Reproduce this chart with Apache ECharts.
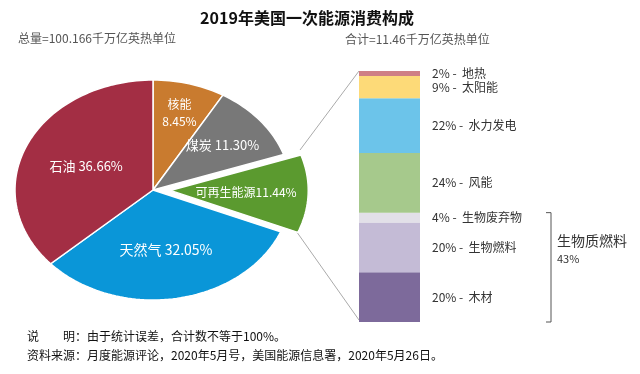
<!DOCTYPE html>
<html><head><meta charset="utf-8">
<script src="https://cdn.jsdelivr.net/npm/echarts@6/dist/echarts.min.js"></script>
<style>html,body{margin:0;padding:0;background:#fff}#c{width:640px;height:374px}</style>
</head><body><div id="c"></div>
<script>
// ---- data ----
const pieNames = ['核能', '煤炭', '可再生能源', '天然气', '石油'];
const pieValues = [8.45, 11.30, 11.44, 32.05, 36.66];
const barNames = ['地热', '太阳能', '水力发电', '风能', '生物废弃物', '生物燃料', '木材'];
const barValues = [2, 9, 22, 24, 4, 20, 20];
const bioGroupName = '生物质燃料';
const bioGroupValue = '43%';
const titleText = '2019年美国一次能源消费构成';
const totalText = '总量=100.166千万亿英热单位';
const subTotalText = '合计=11.46千万亿英热单位';
const note1 = '说　　明：由于统计误差，合计数不等于100%。';
const note2 = '资料来源：月度能源评论，2020年5月号，美国能源信息署，2020年5月26日。';

// ---- styles ----
const pieColors = ['#C97B2F', '#787878', '#5B9A2F', '#0A96D8', '#A32E44'];
const pieLabelR = [0.73, 0.65, 0.55, 0.55, 0.53];
const pieLabelSize = [12, 13, 12, 14, 13];
const pieExplode = [0, 0, 0.125, 0, 0];
const barColors = ['#CF7F85', '#FDDA78', '#6CC4EA', '#A6C98C', '#E2E0E8', '#C4BBD6', '#7D6A9B'];
const CJK = '"Noto Sans CJK SC", "Noto Sans", sans-serif';

const pieTotal = pieValues.reduce((a, b) => a + b, 0);
const pieData = [];
let acc = 0;
pieValues.forEach((v, i) => {
  pieData.push({ value: [acc, acc + v, i], name: pieNames[i] });
  acc += v;
});

function pieLabel(i) {
  const v = pieValues[i].toFixed(2) + '%';
  if (i === 0) return pieNames[i] + '\n' + v;
  if (i === 2) return pieNames[i] + v;
  return pieNames[i] + ' ' + v;
}

const chart = echarts.init(document.getElementById('c'));

const barSeries = [];
for (let i = barNames.length - 1; i >= 0; i--) {
  barSeries.push({
    type: 'bar', xAxisIndex: 1, yAxisIndex: 1, stack: 'r', barWidth: '100%',
    name: barNames[i], data: [barValues[i]],
    itemStyle: { color: barColors[i] },
    label: {
      show: true, position: 'right', distance: 12,
      formatter: barValues[i] + '% -  ' + barNames[i],
      color: '#333', fontSize: 12, fontFamily: CJK
    },
    silent: true
  });
}

chart.setOption({
  animation: false,
  title: {
    text: titleText, left: 302, top: 5, textAlign: 'center',
    textStyle: { fontSize: 16, fontWeight: 'bold', color: '#111', fontFamily: CJK }
  },
  grid: [
    { left: 15, top: 80, width: 276, height: 220 },
    { left: 359, top: 71, width: 61, height: 251 }
  ],
  xAxis: [
    { type: 'value', min: -1, max: 1, show: false, gridIndex: 0 },
    { type: 'category', data: ['可再生能源'], show: false, gridIndex: 1 }
  ],
  yAxis: [
    { type: 'value', min: -1, max: 1, show: false, gridIndex: 0 },
    { type: 'value', min: 0, max: 101, show: false, gridIndex: 1 }
  ],
  series: [
    {
      type: 'custom', xAxisIndex: 0, yAxisIndex: 0, silent: true,
      data: pieData,
      renderItem: function (params, api) {
        const s = api.value(0), e = api.value(1), i = api.value(2);
        const a0 = s / pieTotal * Math.PI * 2, a1 = e / pieTotal * Math.PI * 2;
        const am = (a0 + a1) / 2;
        const ox = Math.sin(am) * pieExplode[i], oy = Math.cos(am) * pieExplode[i];
        const pts = [api.coord([ox, oy])];
        const n = Math.max(6, Math.ceil((a1 - a0) / 0.03));
        for (let k = 0; k <= n; k++) {
          const a = a0 + (a1 - a0) * k / n;
          pts.push(api.coord([ox + Math.sin(a), oy + Math.cos(a)]));
        }
        const lr = pieLabelR[i];
        const lp = api.coord([ox + Math.sin(am) * lr, oy + Math.cos(am) * lr]);
        return {
          type: 'group',
          children: [
            { type: 'polygon', shape: { points: pts },
              style: { fill: pieColors[i], stroke: '#fff', lineWidth: 1.5 } },
            { type: 'text', x: lp[0], y: lp[1],
              style: { text: pieLabel(i), fill: '#fff', fontSize: pieLabelSize[i],
                fontFamily: CJK, align: 'center', verticalAlign: 'middle', lineHeight: 17 } }
          ]
        };
      }
    }
  ].concat(barSeries)
});

// decorations computed from the axes
const topL = chart.convertToPixel({ gridIndex: 1 }, [0, 101]);
const botL = chart.convertToPixel({ gridIndex: 1 }, [0, 0]);
const barLeft = 359;
const bioTop = chart.convertToPixel({ gridIndex: 1 }, [0, barValues[6] + barValues[5] + barValues[4]])[1];
const barBottom = botL[1];

chart.setOption({
  graphic: [
    { type: 'text', left: 18, top: 32, style: { text: totalText, fill: '#555', fontSize: 12, fontFamily: CJK } },
    { type: 'text', left: 345, top: 33, style: { text: subTotalText, fill: '#555', fontSize: 12, fontFamily: CJK } },
    { type: 'line', shape: { x1: 300, y1: 150, x2: barLeft, y2: topL[1] }, style: { stroke: '#AAAAAA', lineWidth: 1 } },
    { type: 'line', shape: { x1: 294, y1: 228, x2: barLeft, y2: barBottom - 2 }, style: { stroke: '#AAAAAA', lineWidth: 1 } },
    { type: 'polyline', shape: { points: [[546, bioTop], [551, bioTop], [551, barBottom], [546, barBottom]] },
      style: { stroke: '#555', lineWidth: 1, fill: null } },
    { type: 'text', left: 557, top: 234, style: { text: bioGroupName, fill: '#333', fontSize: 14, fontFamily: CJK } },
    { type: 'text', left: 557, top: 253, style: { text: bioGroupValue, fill: '#333', fontSize: 11, fontFamily: CJK } },
    { type: 'text', left: 27, top: 330, style: { text: note1, fill: '#111', fontSize: 12, fontFamily: CJK } },
    { type: 'text', left: 27, top: 349, style: { text: note2, fill: '#111', fontSize: 12, fontFamily: CJK } }
  ]
});
</script>
</body></html>
